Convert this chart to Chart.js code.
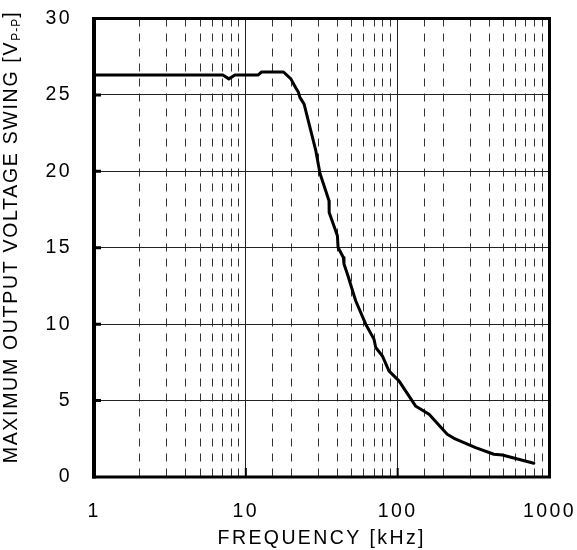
<!DOCTYPE html>
<html><head><meta charset="utf-8">
<script src="https://cdn.jsdelivr.net/npm/chart.js@4/dist/chart.umd.min.js"></script>
<style>html,body{margin:0;padding:0;background:#fff}#wrap{width:577px;height:550px}</style>
</head><body><div id="wrap"><canvas id="c" width="577" height="550"></canvas></div>
<script>
const frequencyKHz = [1, 7.06, 7.73, 8.47, 12.0, 12.7, 17.7, 19.8, 21.3, 22.2, 22.7, 24.2, 28.9, 30.8, 35.3, 35.4, 40.1, 40.5, 43.9, 44.3, 46.7, 52.9, 61.6, 69.8, 71.7, 79.3, 87.6, 89.9, 102, 131, 161, 212, 235, 326, 430, 489, 788];
const swingVpp = [26.3, 26.3, 26.05, 26.3, 26.3, 26.5, 26.5, 26.05, 25.47, 25.17, 24.84, 24.4, 21.35, 19.86, 18.07, 17.31, 15.78, 15.02, 14.36, 13.93, 13.27, 11.53, 10.0, 9.02, 8.47, 7.92, 6.94, 6.83, 6.29, 4.65, 4.11, 2.80, 2.53, 1.92, 1.49, 1.44, 0.90];
const xTickLabels = ['1', '10', '100', '1000'];
const yTickValues = [0, 5, 10, 15, 20, 25, 30];
const xTitle = 'FREQUENCY [kHz]';
const yTitleMain = 'MAXIMUM OUTPUT VOLTAGE SWING [V';
const yTitleSub = 'P-P';
const yTitleEnd = ']';

const FONT = '"Liberation Sans", Arial, sans-serif';
const FS = 19.5;

function isDecade(v) {
  const l = Math.log10(v);
  return Math.abs(l - Math.round(l)) < 1e-9;
}
function zeroPadding(s) {
  s.paddingLeft = 0; s.paddingRight = 0; s.paddingTop = 0; s.paddingBottom = 0;
}

const framePlugin = {
  id: 'frame',
  beforeDraw(chart) {
    chart.ctx.letterSpacing = '2.4px';
  },
  afterDraw(chart) {
    const ctx = chart.ctx, a = chart.chartArea;
    const xs = chart.scales.x, ys = chart.scales.y;
    ctx.save();
    ctx.letterSpacing = '0px';
    ctx.strokeStyle = '#000';
    // inner tick marks
    ctx.lineWidth = 3;
    ctx.beginPath();
    yTickValues.slice(1, -1).forEach(v => {
      const y = ys.getPixelForValue(v);
      ctx.moveTo(a.left, y); ctx.lineTo(a.left + 7, y);
    });
    ctx.stroke();
    ctx.lineWidth = 2;
    ctx.beginPath();
    xTickLabels.slice(1, -1).forEach(t => {
      const x = xs.getPixelForValue(Number(t));
      ctx.moveTo(x, a.bottom); ctx.lineTo(x, a.bottom - 9);
    });
    ctx.stroke();
    // frame
    ctx.lineWidth = 3;
    ctx.strokeRect(a.left, a.top, a.right - a.left, a.bottom - a.top);
    ctx.lineWidth = 4;
    ctx.beginPath(); ctx.moveTo(a.left, a.top - 1.5); ctx.lineTo(a.left, a.bottom + 1.5); ctx.stroke();
    // y title with subscript
    ctx.fillStyle = '#000';
    const mainFont = FS + 'px ' + FONT, subFont = '12px ' + FONT;
    const mainLS = '1.7px', subLS = '1px';
    ctx.font = mainFont; ctx.letterSpacing = mainLS;
    const w1 = ctx.measureText(yTitleMain).width;
    const w3 = ctx.measureText(yTitleEnd).width;
    ctx.font = subFont; ctx.letterSpacing = subLS;
    const w2 = ctx.measureText(yTitleSub).width;
    const total = w1 + w2 + w3;
    const cy = 237;
    ctx.translate(17, cy);
    ctx.rotate(-Math.PI / 2);
    ctx.textBaseline = 'alphabetic';
    ctx.textAlign = 'left';
    let x0 = -total / 2;
    ctx.font = mainFont; ctx.letterSpacing = mainLS;
    ctx.fillText(yTitleMain, x0, 0);
    x0 += w1;
    ctx.font = subFont; ctx.letterSpacing = subLS;
    ctx.fillText(yTitleSub, x0, 3);
    x0 += w2;
    ctx.font = mainFont; ctx.letterSpacing = mainLS;
    ctx.fillText(yTitleEnd, x0, 0);
    ctx.restore();
  }
};

new Chart(document.getElementById('c'), {
  type: 'line',
  data: {
    datasets: [{
      data: frequencyKHz.map((f, i) => ({ x: f, y: swingVpp[i] })),
      borderColor: '#000',
      borderWidth: 3,
      borderJoinStyle: 'round',
      borderCapStyle: 'round',
      pointRadius: 0,
      tension: 0,
      fill: false
    }]
  },
  options: {
    responsive: false,
    devicePixelRatio: 1,
    animation: false,
    events: [],
    layout: { autoPadding: false, padding: { left: 0, top: 18.5, right: 27.5, bottom: 0 } },
    plugins: { legend: { display: false }, tooltip: { enabled: false } },
    scales: {
      x: {
        type: 'logarithmic',
        min: 1, max: 1000,
        afterFit(s) { s.height = 73; zeroPadding(s); },
        grid: {
          drawTicks: false,
          color: ctx => (ctx.tick && isDecade(ctx.tick.value)) ? '#222' : '#333',
          lineWidth: 1
        },
        border: {
          display: false,
          dash: ctx => (ctx.tick && isDecade(ctx.tick.value)) ? [] : [8, 7]
        },
        ticks: {
          autoSkip: false,
          maxRotation: 0,
          padding: 23,
          color: '#000',
          font: { family: FONT, size: FS },
          callback: v => xTickLabels.includes(String(v)) ? String(v) : ''
        },
        title: {
          display: true,
          text: xTitle,
          color: '#000',
          font: { family: FONT, size: FS },
          padding: { top: 0, bottom: 0 }
        }
      },
      y: {
        min: 0, max: 30,
        afterFit(s) { s.width = 94; zeroPadding(s); },
        afterBuildTicks(s) { s.ticks = yTickValues.map(v => ({ value: v })); },
        grid: { drawTicks: false, color: '#222', lineWidth: 1 },
        border: { display: false },
        ticks: {
          padding: 22,
          color: '#000',
          font: { family: FONT, size: FS }
        }
      }
    }
  },
  plugins: [framePlugin]
});
</script>
</body></html>
